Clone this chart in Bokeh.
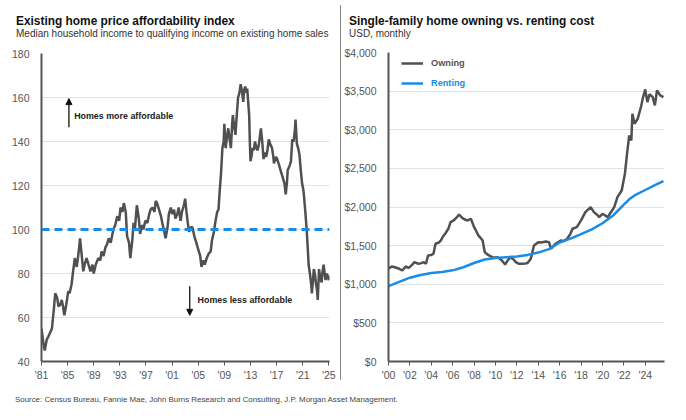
from bokeh.plotting import figure
from bokeh.models import (Range1d, FixedTicker, Span, Label, Arrow, NormalHead,
                          NumeralTickFormatter, Legend, LegendItem, Div)
from bokeh.layouts import row, column
from bokeh.embed import file_html
from bokeh.resources import INLINE

# ---------------- data ----------------
afford_year = [1981.0, 1981.3, 1981.5, 1981.8, 1982.0, 1982.3, 1982.6, 1982.9, 1983.1, 1983.4, 1983.6, 1983.9,
               1984.1, 1984.3, 1984.5, 1984.8, 1985.1, 1985.3, 1985.6, 1985.8, 1986.1, 1986.3, 1986.4, 1986.7,
               1986.9, 1987.1, 1987.4, 1987.6, 1987.9, 1988.2, 1988.5, 1988.8, 1989.0, 1989.3, 1989.7, 1990.0,
               1990.2, 1990.5, 1990.8, 1991.0, 1991.3, 1991.6, 1992.0, 1992.3, 1992.6, 1992.9, 1993.1, 1993.4,
               1993.6, 1993.9, 1994.1, 1994.4, 1994.6, 1994.9, 1995.1, 1995.3, 1995.6, 1995.9, 1996.1, 1996.4,
               1996.6, 1996.9, 1997.2, 1997.5, 1997.7, 1998.0, 1998.3, 1998.5, 1998.7, 1999.0, 1999.3, 1999.5,
               1999.8, 2000.0, 2000.3, 2000.5, 2000.8, 2001.0, 2001.3, 2001.5, 2001.8, 2002.0, 2002.3, 2002.5,
               2002.8, 2003.0, 2003.2, 2003.4, 2003.6, 2003.9, 2004.1, 2004.4, 2004.7, 2005.0, 2005.3, 2005.5,
               2005.8, 2006.0, 2006.3, 2006.6, 2006.9, 2007.1, 2007.4, 2007.6, 2007.9, 2008.1, 2008.3, 2008.5,
               2008.7, 2008.9, 2009.0, 2009.2, 2009.4, 2009.6, 2009.8, 2010.0, 2010.2, 2010.3, 2010.5, 2010.7,
               2010.9, 2011.1, 2011.3, 2011.5, 2011.7, 2011.9, 2012.0, 2012.2, 2012.4, 2012.5, 2012.7, 2012.8,
               2012.9, 2013.0, 2013.2, 2013.3, 2013.5, 2013.7, 2013.9, 2014.1, 2014.3, 2014.6, 2014.8, 2015.0,
               2015.2, 2015.4, 2015.6, 2015.8, 2016.0, 2016.3, 2016.5, 2016.6, 2016.9, 2017.1, 2017.4, 2017.6,
               2017.9, 2018.2, 2018.4, 2018.6, 2018.7, 2019.0, 2019.2, 2019.4, 2019.6, 2019.8, 2019.9, 2020.1,
               2020.3, 2020.5, 2020.7, 2020.9, 2021.1, 2021.2, 2021.4, 2021.6, 2021.8, 2021.9, 2022.1, 2022.3,
               2022.4, 2022.6, 2022.7, 2022.9, 2023.0, 2023.2, 2023.3, 2023.4, 2023.5, 2023.7, 2023.9, 2024.0,
               2024.2, 2024.4, 2024.5, 2024.7, 2024.8, 2025.0, 2025.1]
afford_index = [55, 48, 45, 50, 51, 53, 55, 64, 71, 69, 65, 66,
                68, 65, 61, 66, 72, 71, 75, 80, 87, 84, 83, 90,
                96, 90, 81, 84, 87, 84, 81, 84, 80, 84, 87, 86,
                90, 88, 92, 93, 96, 94, 100, 102, 106, 104, 110, 108,
                112, 108, 97, 94, 87, 95, 103, 100, 111, 105, 98, 102,
                100, 104, 103, 107, 109, 110, 108, 113, 112, 109, 106, 103,
                99, 96, 101, 107, 110, 107, 109, 105, 107, 110, 104, 108,
                111, 114, 108, 103, 99, 101, 101, 97, 94, 91, 88, 83,
                86, 84, 87, 89, 90, 95, 99, 103, 108, 109, 118, 126,
                137, 140, 148, 137, 142, 146, 141, 137, 148, 152, 147, 143,
                152, 160, 162, 166, 163, 158, 163, 165, 162, 164, 156, 152,
                140, 131, 134, 137, 136, 140, 137, 136, 139, 146, 140, 132,
                135, 133, 136, 141, 139, 137, 133, 130, 133, 132, 129, 127,
                124, 121, 116, 122, 127, 129, 131, 141, 140, 145, 150, 139,
                137, 134, 127, 121, 118, 115, 108, 100, 90, 84, 80, 75,
                71, 78, 82, 79, 76, 72, 68, 75, 82, 78, 76, 80,
                84, 79, 77, 80, 79, 77, 79]
afford_threshold = 100
left_ticks = [1981, 1985, 1989, 1993, 1997, 2001, 2005, 2009, 2013, 2017, 2021, 2025]
left_tick_labels = ["'81", "'85", "'89", "'93", "'97", "'01", "'05", "'09", "'13", "'17", "'21", "'25"]
left_y_ticks = [40, 60, 80, 100, 120, 140, 160, 180]

own_year = [2000.0, 2000.3, 2000.6, 2001.0, 2001.3, 2001.6, 2001.9, 2002.2, 2002.4, 2002.8, 2003.0, 2003.3,
            2003.5, 2003.7, 2004.0, 2004.2, 2004.4, 2004.7, 2004.9, 2005.1, 2005.3, 2005.6, 2005.8, 2006.1,
            2006.4, 2006.6, 2006.8, 2007.0, 2007.2, 2007.4, 2007.7, 2008.0, 2008.2, 2008.4, 2008.6, 2008.8,
            2009.0, 2009.2, 2009.4, 2009.7, 2010.0, 2010.2, 2010.6, 2010.9, 2011.1, 2011.4, 2011.7, 2011.9,
            2012.2, 2012.5, 2012.8, 2013.0, 2013.3, 2013.6, 2014.0, 2014.3, 2014.7, 2015.0, 2015.2, 2015.6,
            2016.1, 2016.4, 2016.7, 2017.0, 2017.2, 2017.6, 2018.0, 2018.4, 2018.9, 2019.2, 2019.5, 2019.7,
            2020.0, 2020.5, 2020.7, 2021.1, 2021.4, 2021.8, 2022.1, 2022.3, 2022.5, 2022.7, 2022.8, 2023.0,
            2023.3, 2023.6, 2023.8, 2024.0, 2024.2, 2024.4, 2024.7, 2024.9, 2025.1, 2025.4, 2025.7]
own_cost = [1200, 1230, 1220, 1200, 1178, 1230, 1212, 1250, 1286, 1265, 1270, 1286,
            1265, 1373, 1380, 1394, 1524, 1540, 1567, 1620, 1654, 1720, 1804, 1826,
            1870, 1904, 1870, 1848, 1835, 1826, 1848, 1739, 1690, 1632, 1600, 1567,
            1415, 1390, 1373, 1351, 1345, 1351, 1308, 1256, 1300, 1351, 1320, 1286,
            1265, 1265, 1270, 1274, 1330, 1502, 1545, 1540, 1554, 1545, 1459, 1524,
            1567, 1560, 1589, 1650, 1718, 1740, 1826, 1934, 1998, 1934, 1900, 1869,
            1912, 1869, 1912, 1998, 2128, 2214, 2431, 2690, 2927, 2862, 3208, 3078,
            3143, 3294, 3423, 3522, 3358, 3460, 3423, 3315, 3510, 3444, 3423]
rent_year = [2000.0, 2001.0, 2002.0, 2003.0, 2004.0, 2005.0, 2006.0, 2007.0, 2008.0, 2009.0, 2010.0, 2011.0,
             2012.0, 2013.0, 2014.0, 2015.0, 2016.0, 2017.0, 2018.0, 2019.0, 2020.0, 2021.0, 2022.0, 2022.5,
             2023.0, 2024.0, 2025.0, 2025.7]
rent_cost = [975, 1030, 1085, 1120, 1145, 1160, 1180, 1220, 1275, 1320, 1340, 1350,
             1360, 1380, 1410, 1455, 1540, 1590, 1650, 1710, 1790, 1890, 2030, 2100,
             2150, 2220, 2290, 2335]
right_ticks = [2000, 2002, 2004, 2006, 2008, 2010, 2012, 2014, 2016, 2018, 2020, 2022, 2024]
right_tick_labels = ["'00", "'02", "'04", "'06", "'08", "'10", "'12", "'14", "'16", "'18", "'20", "'22", "'24"]
right_y_ticks = [0, 500, 1000, 1500, 2000, 2500, 3000, 3500, 4000]

FONT = "Liberation Sans"
GRAY_LINE = "#505050"
BLUE = "#1a8ce6"
AXIS_C = "#555555"
LABEL_C = "#555555"
HEAD_H = 44


def style(p, xticks, xlabels, yticks):
    p.outline_line_color = None
    p.background_fill_color = "white"
    p.border_fill_color = "white"
    p.xgrid.visible = False
    p.ygrid.ticker = FixedTicker(ticks=yticks)
    p.ygrid.grid_line_color = "#e2e2e2"
    p.ygrid.grid_line_width = 1
    p.xaxis.ticker = FixedTicker(ticks=xticks)
    p.xaxis.major_label_overrides = {t: l for t, l in zip(xticks, xlabels)}
    p.yaxis.ticker = FixedTicker(ticks=yticks)
    for ax in (p.xaxis, p.yaxis):
        ax.axis_line_color = AXIS_C
        ax.axis_line_width = 2
        ax.minor_tick_line_color = None
        ax.major_label_text_font = FONT
        ax.major_label_text_font_size = "10.5px"
        ax.major_label_text_color = LABEL_C
    p.xaxis.major_tick_line_color = AXIS_C
    p.xaxis.major_tick_line_width = 1
    p.xaxis.major_tick_out = 4
    p.xaxis.major_tick_in = 0
    p.xaxis.major_label_standoff = 3
    p.yaxis.major_tick_line_color = None
    p.yaxis.major_label_standoff = 6


def header(title, subtitle, left_pad, width):
    html = (f"<div style='font-family:{FONT};font-weight:bold;font-size:11.9px;line-height:14px;"
            f"color:#111111;white-space:nowrap'>{title}</div>"
            f"<div style='font-family:{FONT};font-size:10px;line-height:11px;color:#333333;"
            f"white-space:nowrap'>{subtitle}</div>")
    return Div(text=html, width=width, height=HEAD_H, margin=0,
               styles={"padding-left": f"{left_pad}px", "padding-top": "14px",
                       "box-sizing": "border-box"})


# ---------------- left chart ----------------
p1 = figure(width=340, height=386 - HEAD_H, output_backend="svg", toolbar_location=None,
            x_range=Range1d(1981, 2025.1), y_range=Range1d(40, 180),
            min_border_left=41, min_border_right=11, min_border_top=53 - HEAD_H, min_border_bottom=25)
style(p1, left_ticks, left_tick_labels, left_y_ticks)
p1.add_layout(Span(location=afford_threshold, dimension="width", line_color=BLUE,
                   line_width=3, line_dash="8 5"))
p1.line(afford_year, afford_index, line_color=GRAY_LINE, line_width=2.5)

p1.add_layout(Arrow(x_start=1985.2, y_start=146.5, x_end=1985.2, y_end=159.5,
                    line_color="#111111", line_width=1.3,
                    end=NormalHead(size=6, fill_color="#111111", line_color="#111111")))
p1.add_layout(Label(x=1986.0, y=151.8, text="Homes more affordable", text_font=FONT,
                    text_font_size="8.9px", text_font_style="bold", text_color="#222222",
                    text_baseline="middle"))
p1.add_layout(Arrow(x_start=2003.7, y_start=74.2, x_end=2003.7, y_end=61.0,
                    line_color="#111111", line_width=1.3,
                    end=NormalHead(size=6, fill_color="#111111", line_color="#111111")))
p1.add_layout(Label(x=2004.9, y=67.8, text="Homes less affordable", text_font=FONT,
                    text_font_size="8.9px", text_font_style="bold", text_color="#222222",
                    text_baseline="middle"))
h1 = header("Existing home price affordability index",
            "Median household income to qualifying income on existing home sales", 16, 340)

# ---------------- right chart ----------------
p2 = figure(width=345, height=386 - HEAD_H, output_backend="svg", toolbar_location=None,
            x_range=Range1d(2000, 2025.8), y_range=Range1d(0, 4000),
            min_border_left=47, min_border_right=22, min_border_top=52 - HEAD_H, min_border_bottom=25)
style(p2, right_ticks, right_tick_labels, right_y_ticks)
p2.yaxis.formatter = NumeralTickFormatter(format="$0,0")
r_own = p2.line(own_year, own_cost, line_color=GRAY_LINE, line_width=2.5)
r_rent = p2.line(rent_year, rent_cost, line_color=BLUE, line_width=2.5)

for lbl, rend, col, bottom in (("Owning", r_own, LABEL_C, 291), ("Renting", r_rent, BLUE, 271)):
    lg = Legend(items=[LegendItem(label=lbl, renderers=[rend])], location=(13, bottom),
                glyph_width=22, glyph_height=14, label_height=14, label_standoff=8,
                padding=0, margin=0, spacing=0, border_line_color=None,
                background_fill_alpha=0, label_text_font=FONT, label_text_font_size="9.2px",
                label_text_font_style="bold", label_text_color=col)
    p2.add_layout(lg)
h2 = header("Single-family home owning vs. renting cost", "USD, monthly", 8, 345)

divider = Div(width=1, height=375, margin=(5, 0, 0, 0), styles={"background-color": "#8a8a8a"})
source = Div(text="Source: Census Bureau, Fannie Mae, John Burns Research and Consulting, "
                  "J.P. Morgan Asset Management.",
             width=686, height=24, margin=0,
             styles={"font-family": FONT, "font-size": "7.9px", "color": "#444444",
                     "padding-left": "15px", "padding-top": "8px"})

layout = column(row(column(h1, p1, spacing=0), divider, column(h2, p2, spacing=0), spacing=0),
                source, spacing=0)
open("out.html", "w").write(file_html(layout, INLINE))
